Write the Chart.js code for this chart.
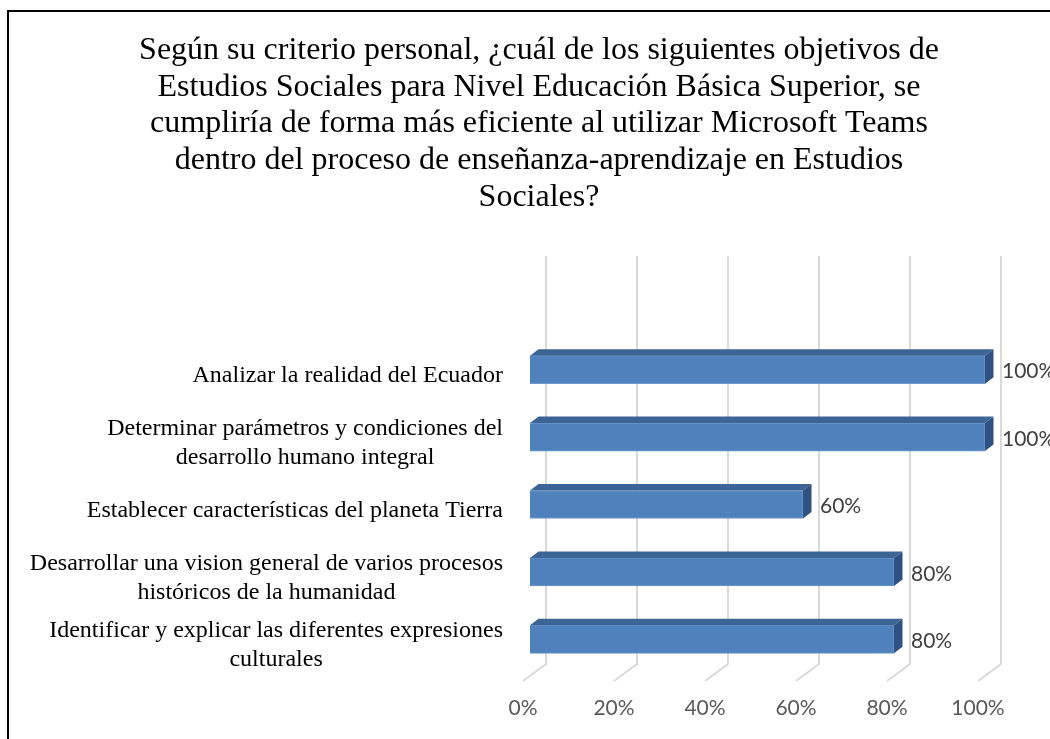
<!DOCTYPE html>
<html>
<head>
<meta charset="utf-8">
<script src="https://cdn.jsdelivr.net/npm/chart.js@4"></script>
<style>
    html, body { margin: 0; padding: 0; background: #fff; overflow: hidden; }
    #wrap { position: relative; width: 1050px; height: 739px; }
    #frame { position: absolute; left: 7px; top: 10px; width: 1100px; height: 800px; border: 2px solid #000; box-sizing: border-box; pointer-events: none; }
</style>
</head>
<body>
<div id="wrap">
    <canvas id="myChart" width="1050" height="739"></canvas>
    <div id="frame"></div>
</div>
<script>
var titleLines = [
    "Según su criterio personal, ¿cuál de los siguientes objetivos de",
    "Estudios Sociales para Nivel Educación Básica Superior, se",
    "cumpliría de forma más eficiente al utilizar Microsoft Teams",
    "dentro del proceso de enseñanza-aprendizaje en Estudios",
    "Sociales?"
];
var categories = [
    ["Analizar la realidad del Ecuador"],
    ["Determinar parámetros y condiciones del", "desarrollo humano integral"],
    ["Establecer características del planeta Tierra"],
    ["Desarrollar una vision general de varios procesos", "históricos de la humanidad"],
    ["Identificar y explicar las diferentes expresiones", "culturales"]
];
var percents = [100, 100, 60, 80, 80];
var tickValues = [0, 20, 40, 60, 80, 100];

// 3D look
var DEPTH_X = 8.5, DEPTH_Y = 6.5;

var gridPlugin = {
    id: "wallGrid",
    beforeDatasetsDraw: function (chart) {
        var ctx = chart.ctx, xs = chart.scales.x, area = chart.chartArea;
        ctx.save();
        ctx.strokeStyle = "#d9d9d9";
        ctx.lineWidth = 2;
        tickValues.forEach(function (v) {
            var xf = xs.getPixelForValue(v);
            ctx.beginPath();
            ctx.moveTo(xf + 16, area.top - 80);
            ctx.lineTo(xf + 16, area.bottom - 9);
            ctx.lineTo(xf - 7, area.bottom + 8);
            ctx.stroke();
        });
        ctx.restore();
    }
};

var barPlugin = {
    id: "bars3d",
    afterDatasetsDraw: function (chart) {
        var ctx = chart.ctx;
        var meta = chart.getDatasetMeta(0);
        ctx.save();
        meta.data.forEach(function (bar, i) {
            var top = bar.y - bar.height / 2, bottom = bar.y + bar.height / 2;
            // top face
            ctx.fillStyle = "#3c6494";
            ctx.beginPath();
            ctx.moveTo(bar.base, top);
            ctx.lineTo(bar.x, top);
            ctx.lineTo(bar.x + DEPTH_X, top - DEPTH_Y);
            ctx.lineTo(bar.base + DEPTH_X, top - DEPTH_Y);
            ctx.closePath();
            ctx.fill();
            // side face
            ctx.fillStyle = "#2f5283";
            ctx.beginPath();
            ctx.moveTo(bar.x, top);
            ctx.lineTo(bar.x + DEPTH_X, top - DEPTH_Y);
            ctx.lineTo(bar.x + DEPTH_X, bottom - DEPTH_Y);
            ctx.lineTo(bar.x, bottom);
            ctx.closePath();
            ctx.fill();
            // value label
            ctx.fillStyle = "#404040";
            ctx.font = "21px Lato";
            ctx.textAlign = "left";
            ctx.textBaseline = "middle";
            ctx.fillText(percents[i] + "%", bar.x + 17, bar.y + 2);
        });
        ctx.restore();
    }
};

var catLabelPlugin = {
    id: "catLabels",
    afterDraw: function (chart) {
        var ctx = chart.ctx, ys = chart.scales.y, area = chart.chartArea;
        var right = area.left - 27, lh = 29;
        ctx.save();
        ctx.font = "24px 'Liberation Serif'";
        ctx.fillStyle = "#000";
        ctx.textAlign = "center";
        ctx.textBaseline = "middle";
        categories.forEach(function (lines, i) {
            var w = 0;
            lines.forEach(function (l) { w = Math.max(w, ctx.measureText(l).width); });
            var cy = ys.getPixelForValue(i) + 6;
            var y0 = cy - (lines.length - 1) * lh / 2;
            lines.forEach(function (l, k) {
                ctx.fillText(l, right - w / 2, y0 + k * lh);
            });
        });
        ctx.restore();
    }
};

var ctx = document.getElementById("myChart").getContext("2d");
var chart = new Chart(ctx, {
    type: "bar",
    data: {
        labels: categories,
        datasets: [
            {
                data: percents,
                backgroundColor: "#4f81bd",
                borderColor: "#6e97cc",
                borderWidth: 1,
                barThickness: 28,
            },
        ],
    },
    options: {
        indexAxis: "y",
        responsive: false,
        animation: false,
        layout: {
            padding: { left: 93, right: 65, top: 0, bottom: 0 },
        },
        plugins: {
            legend: { display: false },
            tooltip: { enabled: false },
            title: {
                display: true,
                text: titleLines,
                color: "#000",
                font: { family: "'Liberation Serif'", size: 32, weight: "normal", lineHeight: 1.15 },
                padding: { top: 32, bottom: 120 },
            },
        },
        scales: {
            x: {
                min: 0,
                max: 100,
                grid: { display: false },
                border: { display: false },
                afterFit: function (scale) { scale.height = 66; },
                ticks: {
                    stepSize: 20,
                    labelOffset: -7,
                    padding: 15,
                    color: "#595959",
                    font: { family: "Lato", size: 21 },
                    callback: function (v) { return v + "%"; },
                },
            },
            y: {
                grid: { display: false },
                border: { display: false },
                afterFit: function (scale) { scale.width = 437; },
                ticks: { display: false },
            },
        },
    },
    plugins: [gridPlugin, barPlugin, catLabelPlugin],
});
</script>
</body>
</html>
